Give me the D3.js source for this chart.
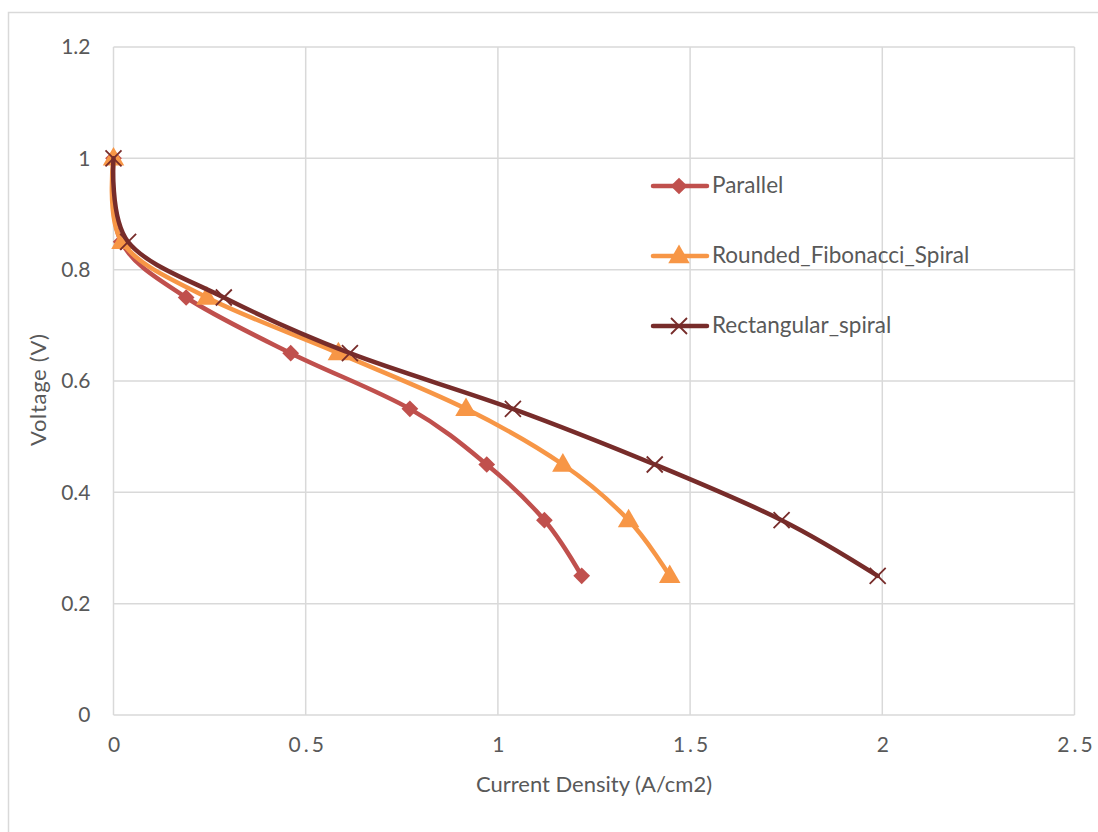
<!DOCTYPE html>
<html><head><meta charset="utf-8">
<script src="https://cdn.jsdelivr.net/npm/d3@7"></script>
<style>
html,body{margin:0;padding:0;background:#fff;}
svg{display:block;font-family:Lato,"Open Sans",sans-serif;}
</style></head>
<body><svg id="chart" width="1098" height="832"></svg>
<script>
const seriesNames = ["Parallel", "Rounded_Fibonacci_Spiral", "Rectangular_spiral"];
const voltage = [1.0, 0.85, 0.75, 0.65, 0.55, 0.45, 0.35, 0.25];
const parallelCurrent = [0.0, 0.02, 0.189, 0.461, 0.771, 0.971, 1.121, 1.218];
const fibonacciCurrent = [0.0, 0.022, 0.243, 0.585, 0.917, 1.169, 1.340, 1.447];
const rectangularCurrent = [0.0, 0.038, 0.287, 0.615, 1.039, 1.408, 1.738, 1.988];
const xTicks = [0, 0.5, 1, 1.5, 2, 2.5];
const yTicks = [0, 0.2, 0.4, 0.6, 0.8, 1.0, 1.2];
const colors = ["#C0504D", "#F79646", "#772C2A"];
const markers = ["diamond", "triangle", "cross"];

const svg = d3.select("#chart");
const M = {left: 113.5, top: 47, right: 1074.5, bottom: 715};
const x = d3.scaleLinear().domain([0, 2.5]).range([M.left, M.right]);
const y = d3.scaleLinear().domain([0, 1.2]).range([M.bottom, M.top]);

// outer chart border
svg.append("rect").attr("x", 8.5).attr("y", 12.5).attr("width", 1100).attr("height", 840)
  .attr("fill", "#fff").attr("stroke", "#d9d9d9").attr("stroke-width", 1.5);

// gridlines
const grid = svg.append("g");
grid.selectAll(".gx").data(xTicks).join("line")
  .attr("x1", d => x(d)).attr("x2", d => x(d)).attr("y1", M.top).attr("y2", M.bottom)
  .attr("stroke", "#d9d9d9").attr("stroke-width", 1.5);
grid.selectAll(".gy").data(yTicks).join("line")
  .attr("y1", d => y(d)).attr("y2", d => y(d)).attr("x1", M.left).attr("x2", M.right)
  .attr("stroke", "#d9d9d9").attr("stroke-width", 1.5);

// axes labels via d3 axes
const xAxis = d3.axisBottom(x).tickValues(xTicks).tickSize(0).tickPadding(0)
  .tickFormat(d => String(d));
const gx = svg.append("g").attr("transform", `translate(0,${M.bottom + 22})`).call(xAxis);
gx.select(".domain").remove();
gx.selectAll("text").attr("font-size", 21).attr("fill", "#595959")
  .attr("font-family", "Lato, sans-serif")
  .attr("letter-spacing", d => String(d).includes(".") ? 3 : 0)
  .attr("dx", d => String(d).includes(".") ? 1.5 : 0)
  .attr("dy", "0.71em");

const yAxis = d3.axisLeft(y).tickValues(yTicks).tickSize(0).tickPadding(0)
  .tickFormat(d => String(d));
const gy = svg.append("g").attr("transform", `translate(${M.left - 23},0)`).call(yAxis);
gy.select(".domain").remove();
gy.selectAll("text").attr("font-size", 21).attr("fill", "#595959")
  .attr("font-family", "Lato, sans-serif");

// axis titles
svg.append("text").attr("x", 594).attr("y", 786).attr("text-anchor", "middle")
  .attr("dominant-baseline", "middle").attr("font-size", 22).attr("fill", "#595959")
  .text("Current Density (A/cm2)");
svg.append("text").attr("transform", "translate(40,390) rotate(-90)").attr("text-anchor", "middle")
  .attr("dominant-baseline", "middle").attr("font-size", 22).attr("fill", "#595959")
  .attr("textLength", 112).attr("lengthAdjust", "spacing")
  .text("Voltage (V)");

const seriesData = [parallelCurrent, fibonacciCurrent, rectangularCurrent].map(arr =>
  arr.map((c, i) => ({c, v: voltage[i]})));

const line = d3.line().x(d => x(d.c)).y(d => y(d.v)).curve(d3.curveCardinal.tension(0));

function drawMarker(g, type, color, cx, cy) {
  if (type === "diamond") {
    g.append("path").attr("d", d3.symbol().type(d3.symbolSquare).size(140)())
      .attr("transform", `translate(${cx},${cy}) rotate(45)`).attr("fill", color);
  } else if (type === "triangle") {
    g.append("path").attr("d", d3.symbol().type(d3.symbolTriangle).size(200)())
      .attr("transform", `translate(${cx},${cy + 1})`).attr("fill", color);
  } else {
    const s = 8;
    g.append("path").attr("d", `M${cx - s},${cy - s}L${cx + s},${cy + s}M${cx - s},${cy + s}L${cx + s},${cy - s}`)
      .attr("stroke", color).attr("stroke-width", 1.8).attr("fill", "none");
  }
}

seriesData.forEach((data, i) => {
  const g = svg.append("g");
  g.append("path").datum(data).attr("d", line).attr("fill", "none")
    .attr("stroke", colors[i]).attr("stroke-width", 4.5).attr("stroke-linecap", "round");
  data.forEach(d => drawMarker(g, markers[i], colors[i], x(d.c), y(d.v)));
});

// legend
const legendY = [186, 256, 326];
seriesNames.forEach((name, i) => {
  const g = svg.append("g");
  g.append("line").attr("x1", 653).attr("x2", 707).attr("y1", legendY[i]).attr("y2", legendY[i])
    .attr("stroke", colors[i]).attr("stroke-width", 4.5).attr("stroke-linecap", "round");
  drawMarker(g, markers[i], colors[i], 679, legendY[i]);
  g.append("text").attr("x", 712).attr("y", legendY[i] + 1).attr("dominant-baseline", "middle")
    .attr("font-size", 22.5).attr("fill", "#595959").text(name);
});
</script></body></html>
